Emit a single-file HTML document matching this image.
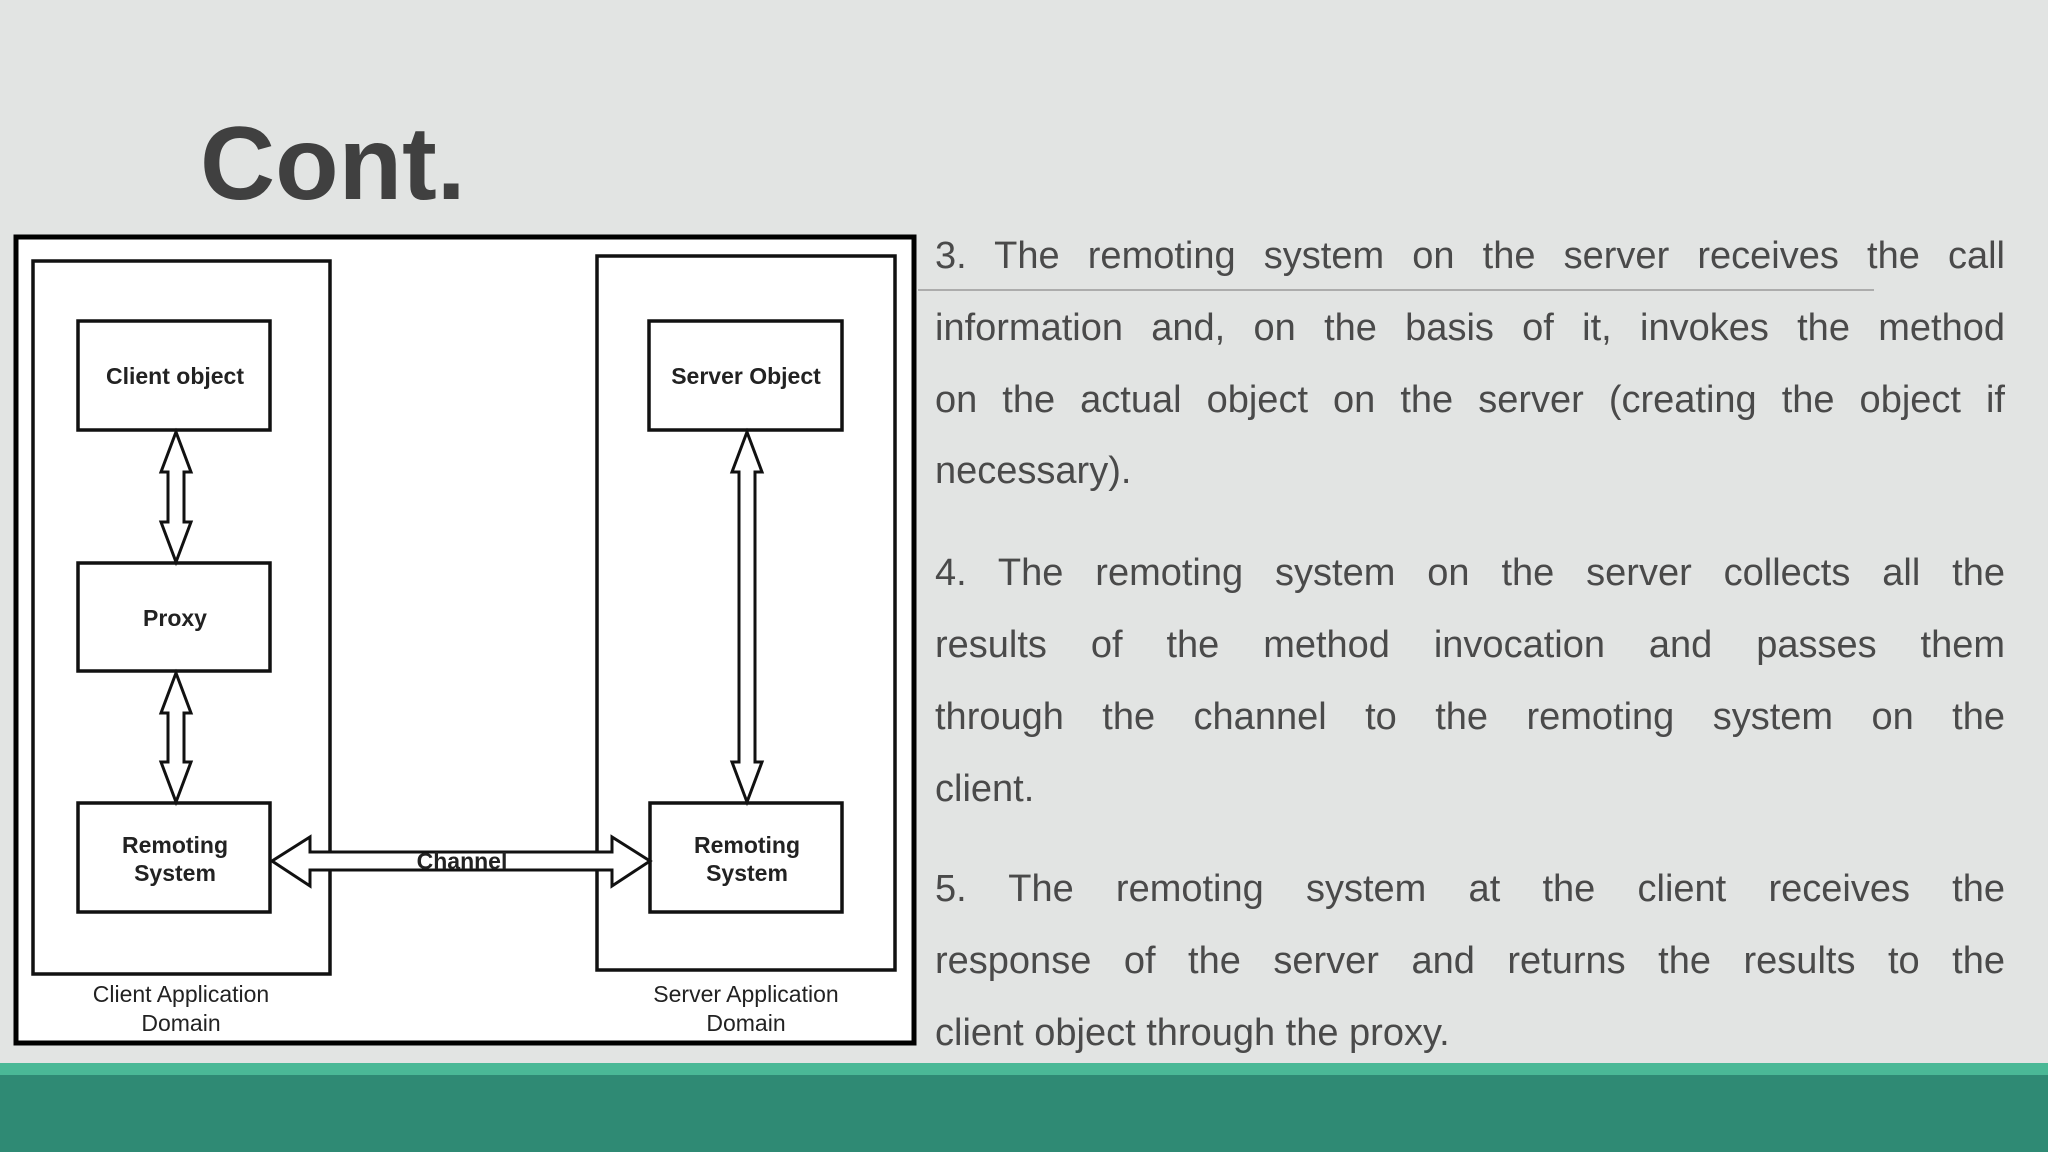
<!DOCTYPE html>
<html><head><meta charset="utf-8"><style>
body{margin:0;width:2048px;height:1152px;background:#e2e4e3;position:relative;overflow:hidden;font-family:"Liberation Sans",sans-serif}
.t{position:absolute;left:935px;width:1070px;font-size:38px;color:#4a4a4a;text-align:justify;text-align-last:justify;white-space:nowrap;line-height:44px}
.l{text-align-last:left}
</style></head><body>
<div style="position:absolute;left:200px;top:104px;font-size:104px;font-weight:bold;color:#404040;line-height:120px">Cont.</div>
<svg style="position:absolute;left:0;top:0" width="2048" height="1152">
<rect x="16" y="237" width="898" height="806" fill="#fff" stroke="#000" stroke-width="5"/>
<g fill="none" stroke="#111" stroke-width="3.5">
<rect x="33" y="261" width="297" height="713"/>
<rect x="597" y="256" width="298" height="714"/>
<rect x="78" y="321" width="192" height="109"/>
<rect x="78" y="563" width="192" height="108"/>
<rect x="78" y="803" width="192" height="109"/>
<rect x="649" y="321" width="193" height="109"/>
<rect x="650" y="803" width="192" height="109"/>
</g>
<g fill="#fff" stroke="#111" stroke-width="3">
<polygon points="176,432 191,472 184,472 184,522 191,522 176,562 161,522 168,522 168,472 161,472"/>
<polygon points="176,673 191,713 184,713 184,762 191,762 176,802 161,762 168,762 168,713 161,713"/>
<polygon points="747,432 762,472 755,472 755,762 762,762 747,802 732,762 739,762 739,472 732,472"/>
<polygon points="272,861 310,837 310,852 612,852 612,837 650,861 612,886 612,870 310,870 310,886"/>
</g>
<g font-family="'Liberation Sans Narrow','Liberation Sans',sans-serif" font-size="23" fill="#222" text-anchor="middle" font-weight="bold">
<text x="175" y="384">Client object</text>
<text x="175" y="626">Proxy</text>
<text x="175" y="853">Remoting</text>
<text x="175" y="881">System</text>
<text x="746" y="384">Server Object</text>
<text x="747" y="853">Remoting</text>
<text x="747" y="881">System</text>
<text x="462" y="869">Channel</text>
</g>
<g font-family="'Liberation Sans Narrow','Liberation Sans',sans-serif" font-size="23" fill="#222" text-anchor="middle">
<text x="181" y="1002">Client Application</text>
<text x="181" y="1031">Domain</text>
<text x="746" y="1002">Server Application</text>
<text x="746" y="1031">Domain</text>
</g>
<line x1="918" y1="290" x2="1874" y2="290" stroke="#999" stroke-width="1.5"/>
<rect x="0" y="1063" width="2048" height="12" fill="#4ab896"/>
<rect x="0" y="1075" width="2048" height="77" fill="#2f8a74"/>
</svg>
<div class="t" style="top:234px">3. The remoting system on the server receives the call</div>
<div class="t" style="top:306px">information and, on the basis of it, invokes the method</div>
<div class="t" style="top:378px">on the actual object on the server (creating the object if</div>
<div class="t l" style="top:449px">necessary).</div>
<div class="t" style="top:551px">4. The remoting system on the server collects all the</div>
<div class="t" style="top:623px">results of the method invocation and passes them</div>
<div class="t" style="top:695px">through the channel to the remoting system on the</div>
<div class="t l" style="top:767px">client.</div>
<div class="t" style="top:867px">5. The remoting system at the client receives the</div>
<div class="t" style="top:939px">response of the server and returns the results to the</div>
<div class="t l" style="top:1011px">client object through the proxy.</div>
</body></html>
